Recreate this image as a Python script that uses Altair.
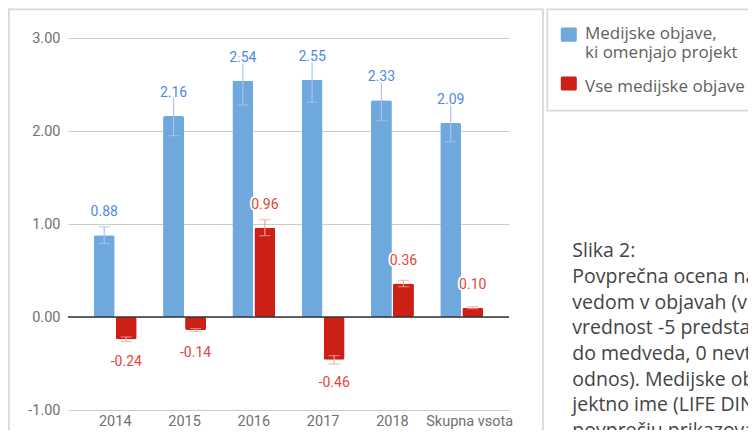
import altair as alt
import pandas as pd

categories = ["2014", "2015", "2016", "2017", "2018", "Skupna vsota"]
series_names = ["Medijske objave, ki omenjajo projekt", "Vse medijske objave"]
project_values = [0.88, 2.16, 2.54, 2.55, 2.33, 2.09]
project_errors = [0.09, 0.21, 0.26, 0.24, 0.22, 0.205]
all_values = [-0.24, -0.14, 0.96, -0.46, 0.36, 0.10]
all_errors = [0.025, 0.016, 0.086, 0.045, 0.034, 0.01]
y_ticks = [-1, 0, 1, 2, 3]

legend_lines_1 = ["Medijske objave,", "ki omenjajo projekt"]
legend_lines_2 = ["Vse medijske objave"]
caption_lines = [
    "Slika 2:",
    "Povprečna ocena naboja povezanega z med-",
    "vedom v objavah (vrednost 5 predstavlja",
    "vrednost -5 predstavlja negativen odnos",
    "do medveda, 0 nevtralen in 5 pozitiven",
    "odnos). Medijske objave, ki omenjajo pro-",
    "jektno ime (LIFE DINALP BEAR), so v",
    "povprečju prikazovale pozitiven odnos",
]

bar_colors = ["#6fa8dc", "#cc1f15"]
label_colors = ["#4d8ae6", "#e0463c"]
error_colors = ["#a9c4f0", "#f2a29c"]
axis_label_color = "#707070"

rows = []
for s, vals, errs in [(series_names[0], project_values, project_errors),
                      (series_names[1], all_values, all_errors)]:
    for c, v, e in zip(categories, vals, errs):
        rows.append({"cat": c, "series": s, "value": v, "lo": v - e, "hi": v + e})
df = pd.DataFrame(rows)
cat_df = pd.DataFrame({"cat": categories})

one = alt.InlineData(values=[{"k": 1}])

LAST = categories[-1]
XPAD = 4.5
x_scale = alt.Scale(paddingInner=0.38, paddingOuter=0.372)
x_enc = alt.X("cat:N", sort=categories, scale=x_scale,
              axis=alt.Axis(title=None, domain=False, ticks=False, labelAngle=0,
                            labelFont="Roboto", labelFontSize=14.5,
                            labelColor=axis_label_color, labelPadding=XPAD,
                            labelOverlap=False,
                            labelExpr=f"datum.label == '{LAST}' ? '' : datum.label"))
xo_enc = alt.XOffset("series:N", sort=series_names, scale=alt.Scale(paddingInner=0.05))
y_scale = alt.Scale(domain=[-1, 3], nice=False, zero=False)
y_enc = alt.Y("value:Q", scale=y_scale,
              axis=alt.Axis(title=None, values=y_ticks, format=".2f", domain=False,
                            ticks=False, grid=True, gridColor="#cccccc", gridWidth=1,
                            labelFont="Roboto", labelFontSize=14.5,
                            labelColor=axis_label_color, labelPadding=8,
                            labelExpr="replace(datum.label, '−', '-')"))


def col(rng):
    return alt.Color("series:N", sort=series_names,
                     scale=alt.Scale(domain=series_names, range=rng), legend=None)


base = alt.Chart(df)

bars = base.mark_bar(cornerRadius=2).encode(
    x=x_enc, xOffset=xo_enc, y=y_enc, color=col(bar_colors))

zero_rule = alt.Chart(one).mark_rule(color="#333333", strokeWidth=1.4).encode(
    y=alt.datum(0, scale=y_scale))

err_rule = base.mark_rule(strokeWidth=1.2).encode(
    x=x_enc, xOffset=xo_enc, y=alt.Y("lo:Q", scale=y_scale), y2="hi:Q",
    color=col(error_colors))
cap_lo = base.mark_tick(thickness=1.2, size=11).encode(
    x=x_enc, xOffset=xo_enc, y=alt.Y("lo:Q", scale=y_scale), color=col(error_colors))
cap_hi = base.mark_tick(thickness=1.2, size=11).encode(
    x=x_enc, xOffset=xo_enc, y=alt.Y("hi:Q", scale=y_scale), color=col(error_colors))

last_label = alt.Chart(cat_df).transform_filter(f"datum.cat == '{LAST}'").mark_text(
    font="Roboto", fontSize=14.5, baseline="top", color=axis_label_color, dx=8).encode(
    x=alt.X("cat:N", sort=categories, scale=x_scale),
    y=alt.value(372 + XPAD), text="cat:N")


def labels(cond, dy):
    b = base.transform_filter(cond).transform_calculate(
        lab="replace(format(datum.value, '.2f'), '−', '-')")
    halo = b.mark_text(
        font="Roboto", fontSize=14, dy=dy, baseline="middle", color="white",
        stroke="white", strokeWidth=4, strokeJoin="round").encode(
        x=x_enc, xOffset=xo_enc, y=alt.Y("value:Q", scale=y_scale), text="lab:N")
    txt = b.mark_text(
        font="Roboto", fontSize=14, dy=dy, baseline="middle").encode(
        x=x_enc, xOffset=xo_enc, y=alt.Y("value:Q", scale=y_scale), text="lab:N",
        color=col(label_colors))
    return [halo, txt]


frame = alt.Chart(one).mark_rect(filled=False, stroke="#d9d9d9", strokeWidth=1.8).encode(
    x=alt.value(-59.2), x2=alt.value(475), y=alt.value(-28.7), y2=alt.value(460))
legend_box = alt.Chart(one).mark_rect(filled=False, stroke="#d9d9d9", strokeWidth=1.8).encode(
    x=alt.value(479.3), x2=alt.value(760), y=alt.value(-28.7), y2=alt.value(72.7))

sq1 = alt.Chart(one).mark_rect(color=bar_colors[0], cornerRadius=1.5).encode(
    x=alt.value(492.8), x2=alt.value(508.8), y=alt.value(-10.5), y2=alt.value(3.8))
sq2 = alt.Chart(one).mark_rect(color=bar_colors[1], cornerRadius=1.5).encode(
    x=alt.value(492.8), x2=alt.value(508.8), y=alt.value(38.6), y2=alt.value(52.4))
leg_t1 = alt.Chart(one).mark_text(align="left", baseline="alphabetic", font="Open Sans",
                                  fontSize=17, lineHeight=19, color="#5f5f5f").encode(
    x=alt.value(517), y=alt.value(1.3), text=alt.value(legend_lines_1))
leg_t2 = alt.Chart(one).mark_text(align="left", baseline="alphabetic", font="Open Sans",
                                  fontSize=17, lineHeight=19, color="#5f5f5f").encode(
    x=alt.value(517), y=alt.value(54.3), text=alt.value(legend_lines_2))

caption = alt.Chart(one).mark_text(align="left", baseline="alphabetic", font="Open Sans",
                                   fontSize=19.5, lineHeight=25.7, color="#444444").encode(
    x=alt.value(504.3), y=alt.value(219.3), text=alt.value(caption_lines))

layers = [frame, legend_box, bars, zero_rule, err_rule, cap_lo, cap_hi, last_label]
layers += labels("datum.value >= 0", -23)
layers += labels("datum.value < 0", 23)
layers += [sq1, sq2, leg_t1, leg_t2, caption]

chart = alt.layer(*layers).resolve_scale(color="independent").properties(
    width=441, height=372,
    autosize=alt.AutoSizeParams(type="none"),
    padding={"left": 60, "top": 30, "right": 239, "bottom": 20},
    background="white",
).configure_view(stroke=None)

chart.save("out.html", embed_options={"renderer": "svg", "actions": False})
